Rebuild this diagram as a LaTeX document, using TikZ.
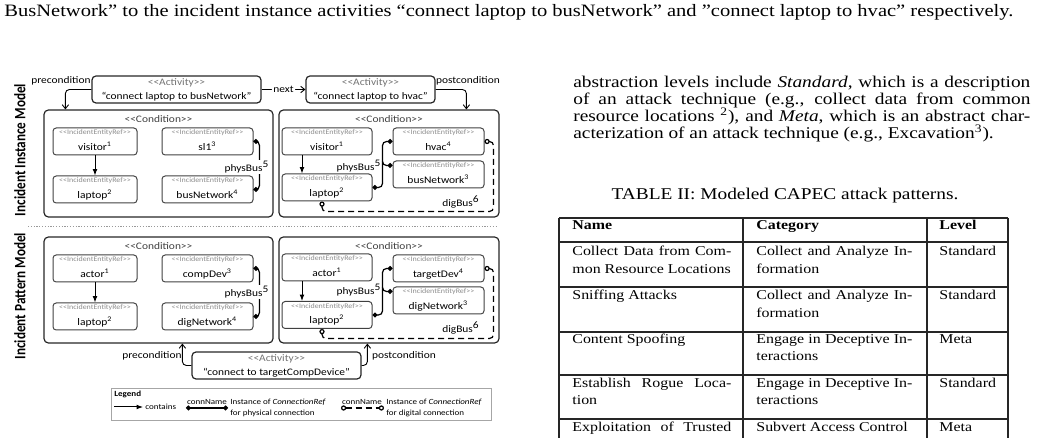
\documentclass[tikz,border=0pt]{standalone}
\usepackage{fontspec}
\setmainfont{Liberation Serif}[FakeStretch=1.18]
\newfontfamily\calfont{Carlito}[FakeStretch=1.14]
\newfontfamily\calrfont{Carlito}
\usepackage{graphicx}
\usetikzlibrary{arrows.meta,calc}
\newcommand\lab{<\kern0pt<}
\newcommand\rab{>\kern0pt>}
\newcommand\bodyfont{\fontsize{8.2}{8.4}\selectfont}
\newcommand\tabfont{\fontsize{6.75}{8}\selectfont}
\newcommand\entity[5]{%
  \node[ebox, minimum width=#4*0.5pt] (#1) at (#2,#3) {};
  \node[stereo] (#1-st) at ($(#1.north)+(0,5.5)$) {\lab IncidentEntityRef\rab};
  \node[ename, anchor=base] (#1-nm) at ($(#1.south)+(0,-5)$) {#5};
}
\newcommand\activity[6]{%
  \node[abox, minimum width=#4*0.5pt] (#1) at (#2,#3) {};
  \node[ast] (#1-st) at ($(#1.north)+(0,7)$) {\lab Activity\rab};
  \node[atx] (#1-tx) at ($(#1.south)+(0,-7)$) {#5};
}
\begin{document}
\begin{tikzpicture}[x=0.5pt,y=-0.5pt,
  cbox/.style={draw=black!85, line width=0.6pt, rounded corners=2.2pt, inner sep=0},
  ebox/.style={draw=black!75, line width=0.5pt, rounded corners=1.6pt, inner sep=0, minimum height=13.5pt},
  abox/.style={draw=black!85, line width=0.6pt, rounded corners=2pt, inner sep=0, minimum height=13.5pt},
  stereo/.style={font=\calfont\fontsize{3.5}{3.8}\selectfont, text=black!45, inner sep=0},
  ename/.style={font=\calfont\fontsize{5.05}{5.5}\selectfont, inner sep=0},
  ast/.style={font=\calfont\fontsize{5}{5.5}\selectfont, text=black!55, inner sep=0},
  atx/.style={font=\calfont\fontsize{5}{5.5}\selectfont, inner sep=0},
  cst/.style={font=\calfont\fontsize{5}{5.5}\selectfont, text=black!75, inner sep=0},
  lbl/.style={font=\calfont\fontsize{5}{5.5}\selectfont, inner sep=0},
  lg/.style={font=\calfont\fontsize{3.95}{4.4}\selectfont, inner sep=0},
  lgb/.style={font=\calfont\bfseries\fontsize{3.95}{4.4}\selectfont, inner sep=0},
  body/.style={font=\bodyfont, anchor=base west, inner sep=0},
  tcell/.style={font=\tabfont, anchor=base west, inner sep=0},
  tline/.style={line width=0.6pt, black!85},
  contains/.style={-{Latex[length=3.2pt,width=2.4pt]}, line width=0.5pt},
  flow/.style={-{Straight Barb[length=2pt,width=3.2pt]}, line width=0.45pt, rounded corners=2pt},
  phys/.style={{Circle[length=2.4pt]}-{Circle[length=2.4pt]}, line width=0.6pt, rounded corners=2pt},
  physend/.style={-{Circle[length=2.4pt]}, line width=0.6pt, rounded corners=2pt},
  dig/.style={{Circle[length=2.6pt,fill=white]}-{Circle[length=2.6pt,fill=white]}, line width=0.6pt, dash pattern=on 3pt off 2pt, rounded corners=2pt}
]
\useasboundingbox (0,0) rectangle (1041,438);

% ---------------- header line
\node[anchor=base west, inner sep=0, font=\fontsize{8.7}{9}\selectfont] (hdr) at (4,17) {BusNetwork” to the incident instance activities “connect laptop to busNetwork” and ”connect laptop to hvac” respectively.};

% ---------------- right column text
\node[body] (par1) at (573,88) {\makebox[228.5pt][s]{abstraction levels include \textit{Standard}, which is a description}};
\node[body] (par2) at (573,104.8) {\makebox[228.5pt][s]{of an attack technique (e.g., collect data from common}};
\node[body] (par3) at (573,121.6) {\makebox[228.5pt][s]{resource locations \textsuperscript{2}), and \textit{Meta}, which is an abstract char-}};
\node[body] (par4) at (573,138.4) {acterization of an attack technique (e.g., Excavation\textsuperscript{3}).};
\node[body, anchor=base] (cap) at (785,200) {TABLE II: Modeled CAPEC attack patterns.};

% ---------------- table
\foreach \y in {218,242,287,332,375,419} \draw[tline] (559,\y) -- (1008,\y);
\foreach \x in {559,743,927,1008} \draw[tline] (\x,218) -- (\x,438);
\node[tcell] (th1) at (572,230) {\bfseries Name};
\node[tcell] (th2) at (756,230) {\bfseries Category};
\node[tcell] (th3) at (939,230) {\bfseries Level};
\node[tcell] (r1a) at (572,256) {\makebox[79.5pt][s]{Collect Data from Com-}};
\node[tcell] (r1b) at (572,273.3) {mon Resource Locations};
\node[tcell] (r1c) at (756,256) {\makebox[78pt][s]{Collect and Analyze In-}};
\node[tcell] (r1d) at (756,273.3) {formation};
\node[tcell] (r1e) at (939,256) {Standard};
\node[tcell] (r2a) at (572,300) {Sniffing Attacks};
\node[tcell] (r2c) at (756,300) {\makebox[78pt][s]{Collect and Analyze In-}};
\node[tcell] (r2d) at (756,317.7) {formation};
\node[tcell] (r2e) at (939,300) {Standard};
\node[tcell] (r3a) at (572,343.3) {Content Spoofing};
\node[tcell] (r3c) at (756,343.3) {\makebox[78pt][s]{Engage in Deceptive In-}};
\node[tcell] (r3d) at (756,361) {teractions};
\node[tcell] (r3e) at (939,343.3) {Meta};
\node[tcell] (r4a) at (572,387.3) {\makebox[79.5pt][s]{Establish Rogue Loca-}};
\node[tcell] (r4b) at (572,405) {tion};
\node[tcell] (r4c) at (756,387.3) {\makebox[78pt][s]{Engage in Deceptive In-}};
\node[tcell] (r4d) at (756,405) {teractions};
\node[tcell] (r4e) at (939,387.3) {Standard};
\node[tcell] (r5a) at (572,431.7) {\makebox[79.5pt][s]{Exploitation of Trusted}};
\node[tcell] (r5c) at (756,431.7) {Subvert Access Control};
\node[tcell] (r5e) at (939,431.7) {Meta};

% ---------------- side labels
\node[rotate=90, inner sep=0] (lblI) at (20,150) {\calrfont\bfseries\fontsize{6.6}{7}\selectfont\scalebox{1}[1.2]{Incident Instance Model}};
\node[rotate=90, inner sep=0] (lblP) at (20,296) {\calrfont\bfseries\fontsize{6.6}{7}\selectfont\scalebox{1}[1.2]{Incident Pattern Model}};

% ---------------- activities (top)
\activity{act1}{176.5}{89.5}{169}{“connect laptop to busNetwork”}{}
\activity{act2}{370.5}{89.5}{129}{“connect laptop to hvac”}{}

% ---------------- conditions
\node[cbox, minimum width=114.5pt, minimum height=53.5pt] (c1) at (158.5,163.5) {};
\node[cst] (c1-st) at ($(c1.north)+(0,10)$) {\lab Condition\rab};
\node[cbox, minimum width=110pt, minimum height=53.5pt] (c2) at (389,163.5) {};
\node[cst] (c2-st) at ($(c2.north)+(0,10)$) {\lab Condition\rab};
\node[cbox, minimum width=114.5pt, minimum height=53pt] (p1) at (158.5,290) {};
\node[cst] (p1-st) at ($(p1.north)+(0,9.5)$) {\lab Condition\rab};
\node[cbox, minimum width=110pt, minimum height=53pt] (p2) at (389,290) {};
\node[cst] (p2-st) at ($(p2.north)+(0,9.5)$) {\lab Condition\rab};

% top flows
\draw[flow] (act1.east) -- node[lbl, fill=white, inner sep=0.8pt] (nextl) {next} (act2.west);
\draw[flow] (act1.west) -| ($(c1.north west)+(22,0)$);
\node[lbl] (prel) at (61,81) {precondition};
\draw[flow] (act2.east) -| ($(c2.north west)+(188,0)$);
\node[lbl] (postl) at (468,81) {postcondition};

% ---------------- instance: left condition
\entity{v1}{95}{141.5}{84}{visitor\textsuperscript{1}}
\entity{s1}{207.5}{141.5}{91}{sl1\textsuperscript{3}}
\entity{l1}{95}{189.5}{84}{laptop\textsuperscript{2}}
\entity{b1}{207.5}{189.5}{91}{busNetwork\textsuperscript{4}}
\draw[contains] (v1.south) -- (l1.north);
\draw[phys] (s1.east) -- ++(6,0) |- (b1.east);
\node[lbl, fill=white, inner sep=0.6pt] (pb1) at (247,167) {physBus\textsuperscript{5}};

% ---------------- instance: right condition
\entity{v2}{327}{141.5}{90}{visitor\textsuperscript{1}}
\entity{h2}{438.5}{141.5}{91}{hvac\textsuperscript{4}}
\entity{n2}{438.5}{174.5}{91}{busNetwork\textsuperscript{3}}
\entity{l2}{327}{187.5}{90}{laptop\textsuperscript{2}}
\draw[contains] ($(v2.south)+(-25,0)$) -- ($(l2.north)+(-25,0)$);
\draw[phys] (h2.west) -- ++(-10,0) |- (l2.east);
\coordinate (j2) at ($(n2.north west)+(-10,1)$);
\draw[physend] (j2) |- ($(n2.north west)+(0,5)$);
\node[lbl] (pb2) at (359,166) {physBus\textsuperscript{5}};
\draw[dig] (h2.east) -- ++(9,0) |- ($(l2.south)+(-5,10)$) -- ($(l2.south)+(-5,0)$);
\node[lbl] (db2) at (461,202) {digBus\textsuperscript{6}};

% separator
\draw[black!40, line width=0.4pt, dash pattern=on 0.6pt off 0.8pt] (28,226) -- (497,226);

% ---------------- pattern: left condition
\entity{ac1}{95}{268.5}{84}{actor\textsuperscript{1}}
\entity{cd1}{207.5}{268.5}{91}{compDev\textsuperscript{3}}
\entity{lp3}{95}{316.5}{84}{laptop\textsuperscript{2}}
\entity{dn1}{207.5}{316.5}{91}{digNetwork\textsuperscript{4}}
\draw[contains] (ac1.south) -- (lp3.north);
\draw[phys] (cd1.east) -- ++(6,0) |- (dn1.east);
\node[lbl, fill=white, inner sep=0.6pt] (pb3) at (247,292) {physBus\textsuperscript{5}};

% ---------------- pattern: right condition
\entity{ac2}{327}{267.5}{90}{actor\textsuperscript{1}}
\entity{td2}{438.5}{268.5}{91}{targetDev\textsuperscript{4}}
\entity{dn2}{438.5}{300.5}{91}{digNetwork\textsuperscript{3}}
\entity{lp4}{327}{315}{90}{laptop\textsuperscript{2}}
\draw[contains] ($(ac2.south)+(-25,0)$) -- ($(lp4.north)+(-25,0)$);
\draw[phys] (td2.west) -- ++(-10,0) |- (lp4.east);
\coordinate (j4) at ($(dn2.north west)+(-10,1)$);
\draw[physend] (j4) |- ($(dn2.north west)+(0,5)$);
\node[lbl] (pb4) at (359,290) {physBus\textsuperscript{5}};
\draw[dig] (td2.east) -- ++(9,0) |- ($(lp4.south)+(-5,9.5)$) -- ($(lp4.south)+(-5,0)$);
\node[lbl] (db4) at (461,328) {digBus\textsuperscript{6}};

% ---------------- bottom activity
\activity{act3}{276.5}{365.5}{169}{“connect to targetCompDevice”}{}
\draw[flow] (act3.west) -| ($(p1.south west)+(139,0)$);
\node[lbl] (prel2) at (152,356) {precondition};
\draw[flow] (act3.east) -| ($(p2.south west)+(89,0)$);
\node[lbl] (postl2) at (404,356) {postcondition};

% ---------------- legend
\node[draw=black!35, line width=0.4pt, minimum width=190pt, minimum height=16pt, inner sep=0] (leg) at (301,404) {};
\node[lgb, anchor=west] (legt) at (114,394) {Legend};
\coordinate (lc1) at (114,407);
\coordinate (lc2) at (143,407);
\draw[contains] (lc1) -- (lc2);
\node[lg, anchor=west] (legc) at (145,407) {contains};
\node[lg, anchor=base] (legn1) at (207,405) {connName};
\coordinate (lp1) at (186,408);
\coordinate (lp2) at (228,408);
\draw[phys] (lp1) -- (lp2);
\node[lg, anchor=west] (legi1) at (230,402) {Instance of \textit{ConnectionRef}};
\node[lg, anchor=west] (legf1) at (230,413) {for physical connection};
\node[lg, anchor=base] (legn2) at (362,405) {connName};
\coordinate (ld1) at (341,408);
\coordinate (ld2) at (384,408);
\draw[dig] (ld1) -- (ld2);
\node[lg, anchor=west] (legi2) at (386,402) {Instance of \textit{ConnectionRef}};
\node[lg, anchor=west] (legf2) at (386,413) {for digital connection};
\end{tikzpicture}
\end{document}
